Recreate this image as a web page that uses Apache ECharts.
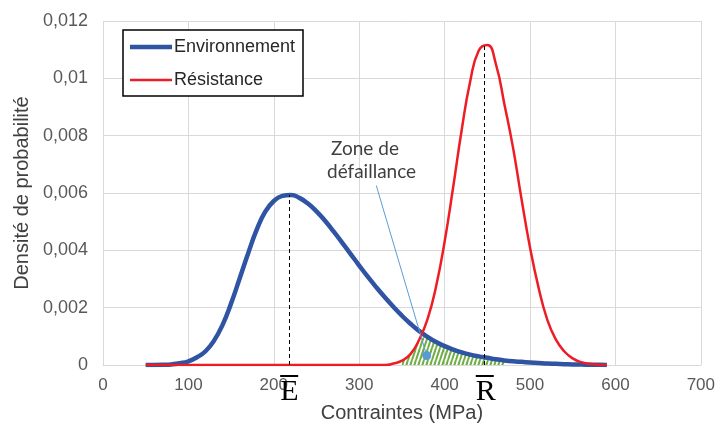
<!DOCTYPE html>
<html><head><meta charset="utf-8">
<script src="https://cdn.jsdelivr.net/npm/echarts@6/dist/echarts.min.js"></script>
<style>html,body{margin:0;padding:0;background:#fff}#c{width:718px;height:428px}</style>
</head><body><div id="c"></div>
<script>
// Contraintes (MPa)
const stress = [50,60,70,80,90,100,110,120,130,140,150,160,170,180,190,200,210,220,230,240,250,260,270,280,290,300,310,320,330,340,350,360,370,380,390,400,410,420,430,440,450,460,470,480,490,500,510,520,530,540,550,560,570,580,590];
// Environnement density
const envDensity = [0,0,0.000005,0.00002,0.00006,0.00013,0.00027,0.00048,0.00085,0.0014,0.00215,0.00302,0.0039,0.00472,0.00535,0.00572,0.0059,0.00593,0.00583,0.00563,0.00536,0.00503,0.00466,0.00427,0.00387,0.00347,0.00308,0.00271,0.00236,0.00203,0.00172,0.00144,0.00119,0.00098,0.0008,0.00066,0.00054,0.00044,0.00036,0.0003,0.00025,0.0002,0.00016,0.00013,0.00011,0.00009,0.00007,0.00005,0.00004,0.00003,0.00002,0.000015,0.00001,0.000005,0];
// Résistance density
const resDensity = [0,0,0,0,0,0,0,0,0,0,0,0,0,0,0,0,0,0,0,0,0,0,0,0,0,0,0,0,0,0.00005,0.00015,0.00038,0.00087,0.0016,0.00274,0.0043,0.0062,0.0082,0.0099,0.01097,0.01116,0.0105,0.0091,0.0076,0.0058,0.0041,0.0027,0.0016,0.0009,0.00048,0.00023,0.0001,0.00004,0.00001,0];
// failure zone range (MPa)
const zoneRange = [350, 470];
// means and their peak heights
const meanE = 218, peakE = 0.00593;
const meanR = 447, peakR = 0.0112;
// annotation leader (from label to dot)
const leaderFrom = [320, 0.00626];
const leaderTo = [379, 0.00033];
const yTickLabels = ['0','0,002','0,004','0,006','0,008','0,01','0,012'];
const xTickLabels = ['0','100','200','300','400','500','600','700'];
const legendNames = ['Environnement','Résistance'];

const pair = arr => stress.map((x,i)=>[x,arr[i]]);
const zoneData = stress.map((x,i)=>[x, Math.min(envDensity[i], resDensity[i])])
  .filter(p => p[0] >= zoneRange[0] && p[0] <= zoneRange[1]);

function hatch(){
  const c = document.createElement('canvas'); c.width = 4; c.height = 12;
  const g = c.getContext('2d'); g.strokeStyle = '#6fae45'; g.lineWidth = 2;
  for (const dx of [-4,0,4]) { g.beginPath(); g.moveTo(dx,12); g.lineTo(dx+4,0); g.stroke(); }
  return c;
}

const FONT = 'Liberation Sans';
const BLUE = '#2f54a3', RED = '#ee1c24';
const chart = echarts.init(document.getElementById('c'), null, {renderer:'canvas'});
chart.setOption({
  animation: false,
  grid: {left:103, right:17, top:21, bottom:60},
  xAxis: {
    type:'value', min:0, max:700, interval:100,
    name:'Contraintes (MPa)', nameLocation:'middle', nameGap:38,
    nameTextStyle:{fontFamily:FONT, fontSize:20, color:'#404040'},
    axisLine:{show:true, lineStyle:{color:'#d9d9d9'}}, axisTick:{show:false},
    axisLabel:{fontFamily:FONT, fontSize:17, color:'#595959', margin:12,
      formatter:(v)=>xTickLabels[Math.round(v/100)]},
    splitLine:{show:true, lineStyle:{color:'#d9d9d9', width:1}}
  },
  yAxis: {
    type:'value', min:0, max:0.012, interval:0.002,
    name:'Densité de probabilité', nameLocation:'middle', nameGap:70,
    nameTextStyle:{fontFamily:FONT, fontSize:20, color:'#404040'},
    axisLine:{show:false}, axisTick:{show:false},
    axisLabel:{fontFamily:FONT, fontSize:18, color:'#595959', margin:15,
      formatter:(v)=>yTickLabels[Math.round(v/0.002)]},
    splitLine:{show:true, lineStyle:{color:'#d9d9d9', width:1}}
  },
  series: [
    {
      name:'zone', type:'line', data:zoneData, smooth:true, symbol:'none', silent:true,
      lineStyle:{width:0}, areaStyle:{color:{image:hatch(), repeat:'repeat'}, opacity:1}, z:1,
      markLine:{silent:true, symbol:'none', label:{show:false},
        lineStyle:{color:'#5b9bd5', width:1, type:'solid'},
        data:[[{coord:leaderFrom},{coord:leaderTo}]]},
      markPoint:{silent:true, symbol:'circle', symbolSize:9, itemStyle:{color:'#5b9bd5'}, label:{show:false},
        data:[{coord:leaderTo}]}
    },
    {
      name:legendNames[0], type:'line', data:pair(envDensity), smooth:true, symbol:'none',
      lineStyle:{color:BLUE, width:4.5}, itemStyle:{color:BLUE}, z:3,
      markLine:{silent:true, symbol:'none', label:{show:false},
        lineStyle:{color:'#000', width:1, type:[4,3]},
        data:[[{coord:[meanE,0]},{coord:[meanE,peakE]}]]}
    },
    {
      name:legendNames[1], type:'line', data:pair(resDensity), smooth:true, symbol:'none',
      lineStyle:{color:RED, width:2.5}, itemStyle:{color:RED}, z:4,
      markLine:{silent:true, symbol:'none', label:{show:false},
        lineStyle:{color:'#000', width:1, type:[4,3]},
        data:[[{coord:[meanR,0]},{coord:[meanR,peakR]}]]}
    }
  ]
});

const pxE = chart.convertToPixel({xAxisIndex:0}, meanE);
const pxR = chart.convertToPixel({xAxisIndex:0}, meanR);
function barLetter(ch, x){
  return [
    {type:'text', left:x-9, top:377, style:{text:ch, font:'30px "Liberation Serif"', fill:'#000'}, z:10},
    {type:'rect', shape:{x:x-9, y:375, width:18, height:2}, style:{fill:'#000'}, z:10}
  ];
}
chart.setOption({
  graphic: [
    ...barLetter('E', pxE),
    ...barLetter('R', pxR),
    {type:'text', left:331, top:139, style:{text:'Zone de', font:'19px Lato', fill:'#404040'}, z:10},
    {type:'text', left:327, top:162, style:{text:'défaillance', font:'19px Lato', fill:'#404040'}, z:10},
    // legend box
    {type:'rect', shape:{x:123, y:30, width:180, height:66}, style:{fill:'#fff', stroke:'#000', lineWidth:1.5}, z:20},
    {type:'line', shape:{x1:130, y1:47, x2:172, y2:47}, style:{stroke:BLUE, lineWidth:4.5}, z:21},
    {type:'text', left:174, top:38, style:{text:legendNames[0], font:'18px "Liberation Sans"', fill:'#262626'}, z:21},
    {type:'line', shape:{x1:130, y1:80, x2:172, y2:80}, style:{stroke:RED, lineWidth:2.5}, z:21},
    {type:'text', left:174, top:71, style:{text:legendNames[1], font:'18px "Liberation Sans"', fill:'#262626'}, z:21}
  ]
});
</script></body></html>
